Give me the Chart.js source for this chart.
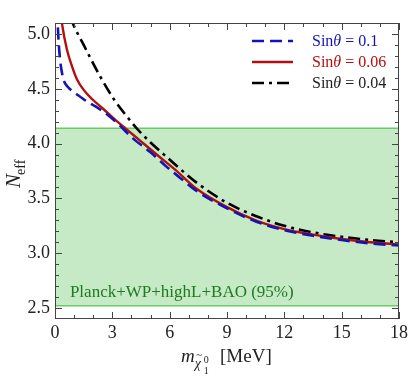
<!DOCTYPE html>
<html>
<head>
<meta charset="utf-8">
<script src="https://cdn.jsdelivr.net/npm/chart.js@4.4.1/dist/chart.umd.min.js"></script>
<style>
html, body { margin: 0; padding: 0; background: #fff; }
</style>
</head>
<body>
<canvas id="neffChart" width="411" height="377"></canvas>
<script>
// values
const massBlue = [0.15, 0.2, 0.27, 0.36, 0.45, 0.65, 0.9, 1.3, 1.8, 2.2, 2.7, 3.3, 4.06, 5.0, 5.83, 6.6, 7.39, 9, 10.5, 12, 13.5, 15, 16.5, 18];
const neffBlue = [5.06, 4.90, 4.76, 4.65, 4.58, 4.52, 4.48, 4.43, 4.37, 4.33, 4.27, 4.18, 4.05, 3.92, 3.79, 3.68, 3.57, 3.41, 3.29, 3.21, 3.16, 3.12, 3.09, 3.07];

const massRed = [0.3, 0.36, 0.62, 0.9, 1.14, 1.5, 1.98, 2.5, 3.2, 3.75, 4.5, 5.46, 6.3, 7.39, 9, 10.5, 12, 13.5, 15, 16.5, 18];
const neffRed = [5.18, 5.10, 4.86, 4.70, 4.59, 4.49, 4.40, 4.32, 4.21, 4.13, 4.02, 3.88, 3.76, 3.59, 3.42, 3.30, 3.22, 3.17, 3.13, 3.10, 3.08];

const massBlack = [0.8, 0.9, 1.5, 2.34, 3.1, 3.75, 4.27, 5.0, 5.83, 7.44, 9, 10.5, 12, 13.5, 15, 16.5, 18];
const neffBlack = [5.16, 5.11, 4.90, 4.62, 4.40, 4.25, 4.14, 4.01, 3.88, 3.64, 3.46, 3.34, 3.25, 3.19, 3.15, 3.12, 3.10];

const seriesNames = ['0.1', '0.06', '0.04'];
const xTicks = [0, 3, 6, 9, 12, 15, 18];
const yTicks = [2.5, 3.0, 3.5, 4.0, 4.5, 5.0];
const bandTop = 4.14;
const bandBottom = 2.52;
const bandLabel = 'Planck+WP+highL+BAO (95%)';

const SERIF = '"Liberation Serif", "DejaVu Serif", serif';
const BLUE = '#1414b4';
const RED = '#b40f0f';
const BAND_LINE = '#66cc66';
const BAND_FILL = 'rgba(198, 234, 198, 1)';

function toPoints(xs, ys) {
    return xs.map((x, i) => ({ x: x, y: ys[i] }));
}

// inward ticks on all four sides plus the frame
const framePlugin = {
    id: 'frame',
    afterDraw(chart) {
        const ctx = chart.ctx;
        const a = chart.chartArea;
        const xs = chart.scales.x;
        const ys = chart.scales.y;
        ctx.save();
        ctx.strokeStyle = '#444';
        ctx.lineWidth = 1;
        ctx.strokeRect(a.left + 0.5, a.top + 0.5, a.right - a.left - 1, a.bottom - a.top - 1);
        ctx.beginPath();
        for (let v = 0; v <= 18; v++) {
            const px = Math.round(xs.getPixelForValue(v)) + 0.5;
            const len = v % 3 === 0 ? 7 : 4;
            ctx.moveTo(px, a.bottom); ctx.lineTo(px, a.bottom - len);
            ctx.moveTo(px, a.top); ctx.lineTo(px, a.top + len);
        }
        for (let k = 25; k <= 51; k++) {
            const v = k / 10;
            const py = Math.round(ys.getPixelForValue(v)) + 0.5;
            const len = k % 5 === 0 ? 7 : 4;
            ctx.moveTo(a.left, py); ctx.lineTo(a.left + len, py);
            ctx.moveTo(a.right, py); ctx.lineTo(a.right - len, py);
        }
        ctx.stroke();
        ctx.restore();
    }
};

// axis titles with sub/superscripts, band label and legend
const textPlugin = {
    id: 'texts',
    afterDraw(chart) {
        const ctx = chart.ctx;
        const xs = chart.scales.x;
        const ys = chart.scales.y;
        ctx.save();
        ctx.textBaseline = 'alphabetic';

        // band label
        ctx.fillStyle = '#1e7a1e';
        ctx.font = '17px ' + SERIF;
        ctx.textAlign = 'left';
        ctx.fillText(bandLabel, xs.getPixelForValue(0.78), ys.getPixelForValue(2.6));

        // y title N_eff
        ctx.save();
        ctx.translate(20, 188);
        ctx.rotate(-Math.PI / 2);
        ctx.fillStyle = '#222';
        ctx.font = 'italic 21px ' + SERIF;
        ctx.fillText('N', 0, 0);
        const nw = ctx.measureText('N').width;
        ctx.font = '14px ' + SERIF;
        ctx.fillText('eff', nw - 1, 5);
        ctx.restore();

        // x title m_{chi~_1^0} [MeV]
        ctx.fillStyle = '#222';
        let x = 181;
        const base = 362;
        ctx.font = 'italic 19px ' + SERIF;
        ctx.fillText('m', x, base);
        x += ctx.measureText('m').width;
        ctx.font = 'italic 14px ' + SERIF;
        ctx.fillText('\u03C7', x, base + 6);
        ctx.font = '11px ' + SERIF;
        ctx.fillText('~', x + 1.5, base - 4);
        x += 8;
        ctx.font = '10px ' + SERIF;
        ctx.fillText('1', x + 1, base + 12);
        ctx.fillText('0', x + 1, base + 1);
        ctx.font = '19px ' + SERIF;
        ctx.fillText('[MeV]', 220, base);

        // legend
        const rows = [
            { color: BLUE, dash: [12, 6], name: seriesNames[0], y: 41 },
            { color: RED, dash: [], name: seriesNames[1], y: 62 },
            { color: '#000', dash: [12, 5, 3, 5], name: seriesNames[2], y: 83 }
        ];
        rows.forEach(r => {
            ctx.save();
            ctx.strokeStyle = r.color;
            ctx.lineWidth = 2.5;
            ctx.setLineDash(r.dash);
            ctx.beginPath();
            ctx.moveTo(252, r.y);
            ctx.lineTo(293, r.y);
            ctx.stroke();
            ctx.restore();
            ctx.fillStyle = r.color === '#000' ? '#222' : r.color;
            let tx = 312;
            const by = r.y + 5;
            ctx.font = '16px ' + SERIF;
            ctx.fillText('Sin', tx, by);
            tx += ctx.measureText('Sin').width;
            ctx.font = 'italic 16px ' + SERIF;
            ctx.fillText('\u03B8', tx, by);
            tx += ctx.measureText('\u03B8').width;
            ctx.font = '16px ' + SERIF;
            ctx.fillText(' = ' + r.name, tx, by);
        });
        ctx.restore();
    }
};

const ctx = document.getElementById('neffChart').getContext('2d');
const chart = new Chart(ctx, {
    type: 'line',
    data: {
        datasets: [
            {
                label: 'band top',
                data: [{ x: 0, y: bandTop }, { x: 18, y: bandTop }],
                borderColor: BAND_LINE,
                borderWidth: 1.5,
                backgroundColor: BAND_FILL,
                fill: { value: bandBottom },
                pointRadius: 0,
                order: 10
            },
            {
                label: 'band bottom',
                data: [{ x: 0, y: bandBottom }, { x: 18, y: bandBottom }],
                borderColor: BAND_LINE,
                borderWidth: 1.5,
                fill: false,
                pointRadius: 0,
                order: 9
            },
            {
                label: 'Sin = 0.04',
                data: toPoints(massBlack, neffBlack),
                borderColor: '#000',
                borderWidth: 2.6,
                borderDash: [12, 5, 3, 5],
                cubicInterpolationMode: 'monotone',
                pointRadius: 0,
                fill: false,
                clip: 0,
                order: 3
            },
            {
                label: 'Sin = 0.06',
                data: toPoints(massRed, neffRed),
                borderColor: RED,
                borderWidth: 2.4,
                cubicInterpolationMode: 'monotone',
                pointRadius: 0,
                fill: false,
                clip: 0,
                order: 2
            },
            {
                label: 'Sin = 0.1',
                data: toPoints(massBlue, neffBlue),
                borderColor: BLUE,
                borderWidth: 2.6,
                borderDash: [12, 6],
                cubicInterpolationMode: 'monotone',
                pointRadius: 0,
                fill: false,
                clip: 0,
                order: 1
            }
        ]
    },
    options: {
        responsive: false,
        animation: false,
        events: [],
        layout: { padding: { top: 23, right: 10, left: 0, bottom: 0 } },
        plugins: {
            legend: { display: false },
            tooltip: { enabled: false }
        },
        scales: {
            x: {
                type: 'linear',
                min: 0,
                max: 18,
                grid: { display: false, drawTicks: false },
                border: { display: false },
                afterBuildTicks: s => { s.ticks = xTicks.map(v => ({ value: v })); },
                afterFit: s => { s.height = 58; },
                ticks: {
                    padding: 3,
                    color: '#222',
                    font: { family: SERIF, size: 18 },
                    maxRotation: 0,
                    callback: v => String(v)
                }
            },
            y: {
                type: 'linear',
                min: 2.4,
                max: 5.1,
                grid: { display: false, drawTicks: false },
                border: { display: false },
                afterBuildTicks: s => { s.ticks = yTicks.map(v => ({ value: v })); },
                afterFit: s => { s.width = 55; },
                ticks: {
                    padding: 5,
                    color: '#222',
                    font: { family: SERIF, size: 18 },
                    callback: v => v.toFixed(1)
                }
            }
        }
    },
    plugins: [framePlugin, textPlugin]
});
</script>
</body>
</html>
